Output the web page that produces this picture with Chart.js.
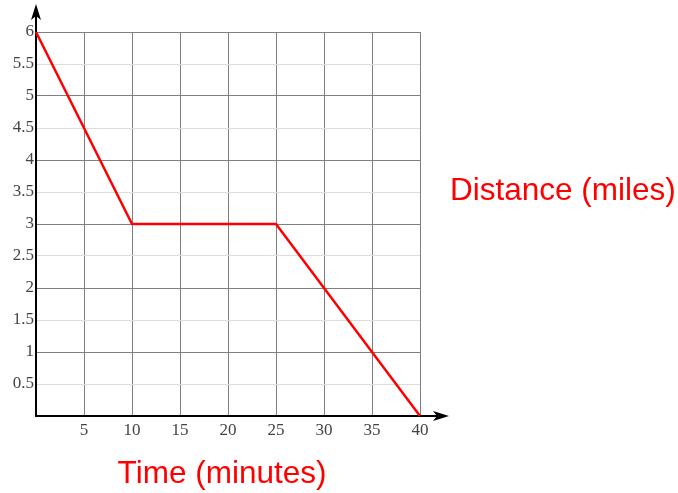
<!DOCTYPE html>
<html>
<head>
<meta charset="utf-8">
<script src="https://cdn.jsdelivr.net/npm/chart.js@4/dist/chart.umd.min.js"></script>
<style>
    html, body { margin: 0; padding: 0; background: #fff; }
    #wrap { width: 678px; height: 493px; position: relative; }
</style>
</head>
<body>
<div id="wrap"><canvas id="c" width="678" height="493"></canvas></div>
<script>
// данные: время (мин) -> расстояние (мили)
const timeMin = [0, 10, 25, 40];
const distMiles = [6, 3, 3, 0];
const xTicks = [0, 5, 10, 15, 20, 25, 30, 35, 40];
const yTicks = [0, 0.5, 1, 1.5, 2, 2.5, 3, 3.5, 4, 4.5, 5, 5.5, 6];
const xTitle = 'Time (minutes)';
const yTitle = 'Distance (miles)';

const RED = '#ff0000';
const GRID_DARK = '#7f7f7f';
const GRID_LIGHT = '#dddddd';
const TICK_FONT = { family: '"Liberation Serif", "Times New Roman", serif', size: 17 };

// стрелки осей и подписи
const decor = {
    id: 'decor',
    afterDraw(chart) {
        const { ctx, chartArea: a } = chart;
        ctx.save();
        ctx.fillStyle = '#000';
        ctx.strokeStyle = '#000';
        ctx.lineWidth = 2;
        // ось Y вверх
        ctx.beginPath(); ctx.moveTo(a.left, a.top); ctx.lineTo(a.left, 12); ctx.stroke();
        ctx.beginPath();
        ctx.moveTo(a.left, 4); ctx.lineTo(a.left + 5, 20); ctx.lineTo(a.left, 16); ctx.lineTo(a.left - 5, 20);
        ctx.closePath(); ctx.fill();
        // ось X вправо
        ctx.beginPath(); ctx.moveTo(a.right, a.bottom); ctx.lineTo(440, a.bottom); ctx.stroke();
        ctx.beginPath();
        ctx.moveTo(449, a.bottom); ctx.lineTo(433, a.bottom - 5); ctx.lineTo(437, a.bottom); ctx.lineTo(433, a.bottom + 5);
        ctx.closePath(); ctx.fill();

        ctx.fillStyle = RED;
        ctx.font = '31.5px "Liberation Sans", Arial, sans-serif';
        ctx.textBaseline = 'alphabetic';
        ctx.textAlign = 'left';
        ctx.fillText(yTitle, 450, 200);
        ctx.textAlign = 'center';
        ctx.fillText(xTitle, 222, 483);
        ctx.restore();
    },
};

new Chart(document.getElementById('c'), {
    type: 'line',
    data: {
        datasets: [{
            data: timeMin.map((t, i) => ({ x: t, y: distMiles[i] })),
            borderColor: RED,
            borderWidth: 2.5,
            pointRadius: 0,
            tension: 0,
            clip: false,
        }],
    },
    options: {
        responsive: false,
        animation: false,
        events: [],
        layout: { padding: { left: 0, top: 32, right: 258, bottom: 0 } },
        plugins: { legend: { display: false }, tooltip: { enabled: false } },
        scales: {
            x: {
                type: 'linear', min: 0, max: 40,
                afterFit: (s) => { s.height = 77; },
                afterBuildTicks: (s) => { s.ticks = xTicks.map((v) => ({ value: v })); },
                ticks: {
                    padding: 4, color: '#444', font: TICK_FONT, maxRotation: 0,
                    callback: (v) => (v === 0 ? '' : String(v)),
                },
                grid: { color: GRID_DARK, lineWidth: 1, drawTicks: false },
                border: { color: '#000', width: 2 },
            },
            y: {
                type: 'linear', min: 0, max: 6,
                afterFit: (s) => { s.width = 36; },
                afterBuildTicks: (s) => { s.ticks = yTicks.map((v) => ({ value: v })); },
                ticks: {
                    padding: 2, color: '#444', font: TICK_FONT,
                    callback: (v) => (v === 0 ? '' : String(v)),
                },
                grid: {
                    color: (c) => (c.tick && Number.isInteger(c.tick.value) ? GRID_DARK : GRID_LIGHT),
                    lineWidth: 1, drawTicks: false,
                },
                border: { color: '#000', width: 2 },
            },
        },
    },
    plugins: [decor],
});
</script>
</body>
</html>
